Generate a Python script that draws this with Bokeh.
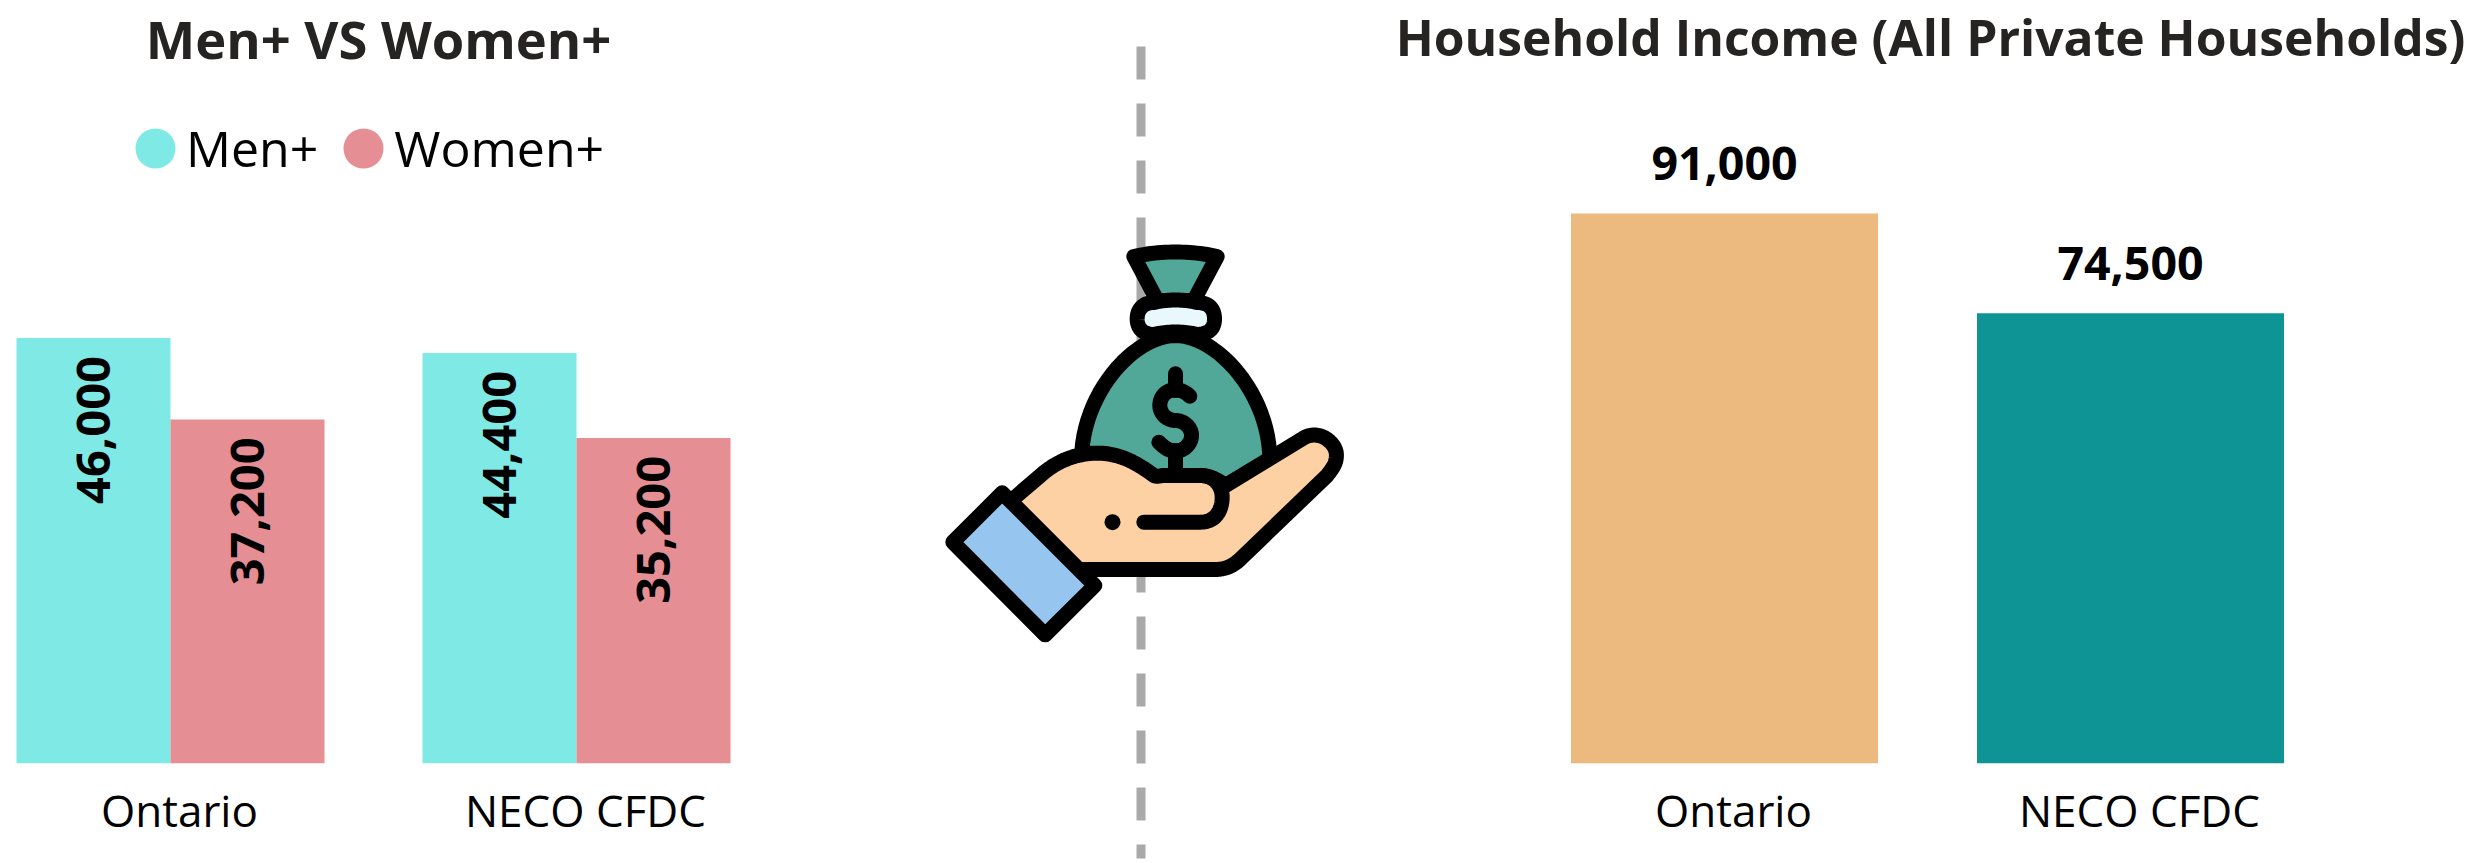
from math import pi
from bokeh.plotting import figure
from bokeh.layouts import row
from bokeh.models import ColumnDataSource, Range1d, FixedTicker, Legend, LegendItem, Title
from bokeh.core.properties import value
from bokeh.embed import file_html
from bokeh.resources import INLINE

categories = ["Ontario", "NECO CFDC"]
men = [46000, 44400]
women = [37200, 35200]
household = [91000, 74500]
men_labels = ["46,000", "44,400"]
women_labels = ["37,200", "35,200"]
household_labels = ["91,000", "74,500"]

FONT = "Open Sans"
C_MEN, C_WOMEN, C_ONT, C_NECO = "#7FE9E6", "#E58E94", "#ECB97F", "#0E9494"
H = 863
BOTTOM = 100     # figure px under the baseline
TOP = 68         # minimum border above the frame (the title panel sets the real one)
FRAME = 691      # real height of the frame in px


def base(width, x_range, y_end, title, tsize):
    p = figure(width=width, height=H, x_range=x_range, y_range=Range1d(0, y_end),
               output_backend="svg", toolbar_location=None, min_border=0, min_border_top=TOP,
               min_border_bottom=BOTTOM, background_fill_color=None, border_fill_color=None,
               frame_align=False)
    p.title = Title(text=title, align="center", text_font=FONT, text_font_size=tsize,
                    text_font_style="bold", text_color="#252423", standoff=0, text_line_height=0.85)
    p.yaxis.visible = False
    p.grid.visible = False
    p.outline_line_color = None
    ax = p.xaxis[0]
    ax.ticker = FixedTicker(ticks=list(range(len(categories))))
    ax.major_label_overrides = {i: c for i, c in enumerate(categories)}
    ax.major_label_text_font = FONT
    ax.major_label_text_font_size = "44px"
    ax.major_label_text_color = "#000000"
    ax.major_label_standoff = 10
    ax.axis_line_color = None
    ax.major_tick_line_color = None
    ax.minor_tick_line_color = None
    return p


# ---------- left panel
L0, L1, GAP = 0, 756, 406      # page px of the frame, group spacing
LT = 179                       # page px of the first tick
lx = Range1d((L0 - LT) / GAP, (L1 - LT) / GAP)
y_per_px = 46000 / 426
p1 = base(L1 - L0, lx, FRAME * y_per_px, "Men+ VS Women+", "52.5px")
bw = 154 / GAP
shift = -9 / GAP
idx = list(range(len(categories)))
src_m = ColumnDataSource(dict(x=[i - bw / 2 + shift for i in idx], y=men, t=men_labels))
src_w = ColumnDataSource(dict(x=[i + bw / 2 + shift for i in idx], y=women, t=women_labels))
p1.vbar("x", width=bw, top="y", source=src_m, color=C_MEN, line_color=None)
p1.vbar("x", width=bw, top="y", source=src_w, color=C_WOMEN, line_color=None)
for s in (src_m, src_w):
    p1.text("x", "y", text="t", source=s, angle=pi / 2, y_offset=18, text_align="right",
            text_baseline="middle", text_font=value(FONT), text_font_size="47px",
            text_font_style="bold", text_color="#000000")
nan = float("nan")
r_m = p1.ellipse([nan], [nan], width=40, height=40, width_units="screen", height_units="screen",
                 color=C_MEN, line_color=None)
r_w = p1.ellipse([nan], [nan], width=40, height=40, width_units="screen", height_units="screen",
                 color=C_WOMEN, line_color=None)
leg = Legend(items=[LegendItem(label="Men+", renderers=[r_m], index=0),
                    LegendItem(label="Women+", renderers=[r_w], index=0)],
             orientation="horizontal", location=(130, 581), background_fill_alpha=0,
             border_line_color=None, padding=0, margin=0, spacing=20, label_standoff=6,
             glyph_width=50, glyph_height=50, label_text_font=FONT, label_text_font_size="50px",
             label_text_color="#000000", label_height=40)
p1.add_layout(leg, "center")

# ---------- right panel
R0, R1 = 1377, 2483
RT = 1733
rx = Range1d((R0 - RT) / GAP, (R1 - RT) / GAP)
y2_per_px = 91000 / 548.5
p3 = base(R1 - R0, rx, FRAME * y2_per_px, "Household Income (All Private Households)", "49.8px")
src_h = ColumnDataSource(dict(x=[i - 9 / GAP for i in idx], y=household, t=household_labels,
                              c=[C_ONT, C_NECO]))
p3.vbar("x", width=307 / GAP, top="y", source=src_h, fill_color="c", line_color=None)
p3.text("x", "y", text="t", source=src_h, y_offset=-50, text_align="center", text_baseline="middle",
        text_font=value(FONT), text_font_size="46.5px", text_font_style="bold", text_color="#000000")

# ---------- centre: dashed divider and money-in-hand icon
M0, M1 = L1, R0
p2 = figure(width=M1 - M0, height=H, x_range=Range1d(M0, M1), y_range=Range1d(H, 0),
            output_backend="svg", toolbar_location=None, min_border=0,
            background_fill_color=None, border_fill_color=None, frame_align=False)
p2.axis.visible = False
p2.grid.visible = False
p2.outline_line_color = None
p2.line([1140.5, 1140.5], [46, 858], line_color="#A9A9A9", line_width=9, line_dash="33 24")


def bez(p0, p1_, p2_, p3_, n=24):
    out = []
    for k in range(1, n + 1):
        t = k / n
        a = (1 - t) ** 3; b = 3 * (1 - t) ** 2 * t; c = 3 * (1 - t) * t ** 2; d = t ** 3
        out.append((a * p0[0] + b * p1_[0] + c * p2_[0] + d * p3_[0],
                    a * p0[1] + b * p1_[1] + c * p2_[1] + d * p3_[1]))
    return out


def path(start, *segs):
    pts = [start]
    for s in segs:
        if len(s) == 2:
            pts.append(s)
        else:
            pts += bez(pts[-1], s[0], s[1], s[2])
    return [900 + x / 3 for x, _ in pts], [220 + y / 3 for _, y in pts]


STROKE = 15
BLACK = "#000000"
GREEN, PALE, SKIN, BLUE = "#52A898", "#E9F8FD", "#FDD1A3", "#96C6EF"


def fill(pts, color):
    p2.patch(pts[0], pts[1], fill_color=color, line_color=BLACK, line_width=STROKE, line_join="round")


def stroke(pts):
    p2.line(pts[0], pts[1], line_color=BLACK, line_width=STROKE, line_join="round", line_cap="round")


fill(path((700, 108), ((780, 90), (870, 90), (950, 108)), (880, 240), (770, 240)), GREEN)
fill(path((543, 720), ((543, 520), (700, 345), (825, 345)), ((950, 345), (1108, 520), (1108, 720)),
          (1108, 850), (543, 850)), GREEN)
fill(path((760, 246), ((800, 236), (850, 236), (890, 246)),
          ((925, 246), (942, 265), (942, 295)), ((942, 325), (925, 340), (890, 342)),
          ((850, 332), (800, 332), (760, 342)), ((730, 342), (710, 325), (710, 295)),
          ((710, 265), (730, 246), (760, 246))), PALE)
stroke(path((825, 460), (825, 510)))
stroke(path((825, 690), (825, 770)))
stroke(path((868, 527), ((850, 510), (835, 508), (825, 508)), ((795, 508), (778, 530), (778, 555)),
            ((778, 580), (800, 600), (825, 600)), ((850, 600), (873, 620), (873, 645)),
            ((873, 670), (850, 692), (825, 692)), ((805, 692), (790, 680), (775, 665))))
fill(path((330, 842), (420, 765), ((470, 720), (530, 698), (590, 698)), ((650, 698), (700, 720), (760, 765)),
          ((770, 770), (780, 765), (790, 765)), (900, 765), ((930, 765), (955, 780), (975, 795)),
          (1205, 655), ((1250, 625), (1300, 660), (1307, 695)), ((1312, 730), (1290, 750), (1280, 765)),
          (1020, 1015), ((990, 1045), (960, 1047), (940, 1047)), (535, 1047)), SKIN)
stroke(path((730, 905), (900, 905), ((945, 905), (965, 870), (965, 830)), ((965, 795), (940, 765), (900, 765))))
p2.scatter([900 + 636 / 3], [220 + 905 / 3], size=16, color=BLACK, line_color=None)
fill(path((305, 817), (157, 965), (434, 1243), (583, 1095)), BLUE)

page = row(p1, p2, p3, spacing=0)
open("out.html", "w").write(file_html(page, INLINE))
